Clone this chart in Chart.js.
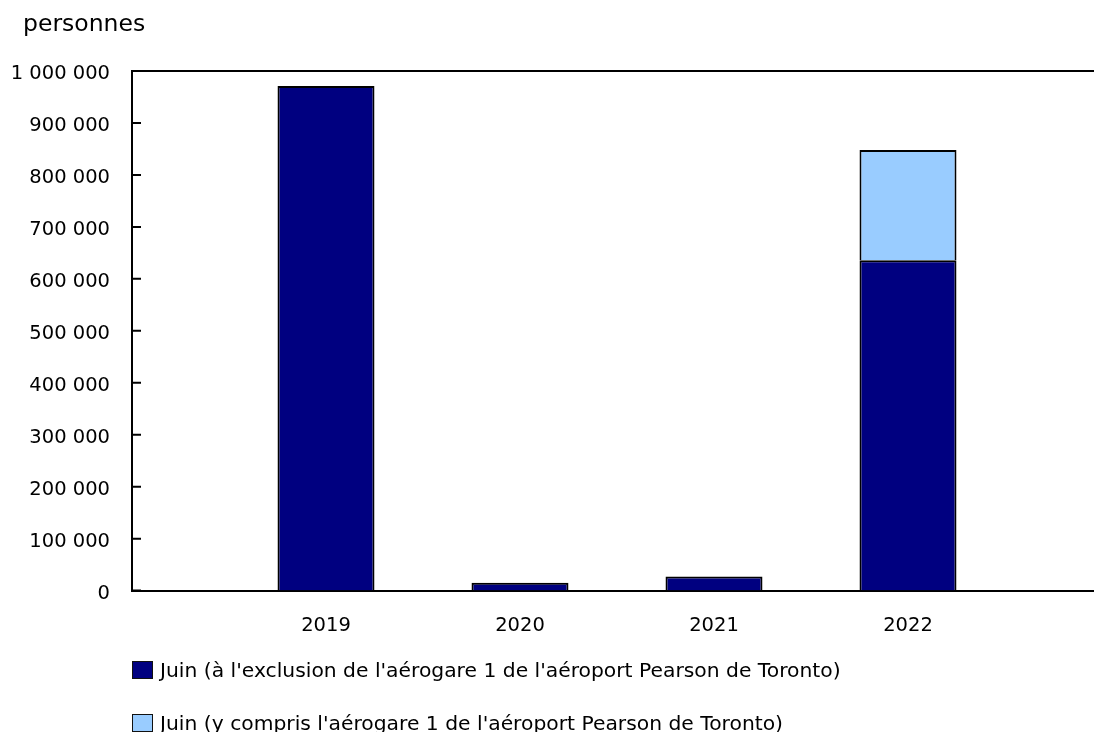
<!DOCTYPE html>
<html>
<head>
<meta charset="utf-8">
<script src="https://cdn.jsdelivr.net/npm/chart.js@4.4.1/dist/chart.umd.min.js"></script>
<style>
  html, body { margin: 0; padding: 0; background: #fff; }
  #wrap { width: 1094px; height: 732px; position: relative; overflow: hidden; font-family: Verdana, "DejaVu Sans", sans-serif; color: #000; }
  /* plot runs a little past the right edge of the picture */
  #plot { position: absolute; left: 0; top: 0; width: 1102px; height: 732px; }
  #unit { position: absolute; left: 23px; top: 9px; font-size: 23.5px; line-height: 28px; }
  #legend { position: absolute; left: 132px; top: 0; font-size: 20.3px; }
  .item { position: absolute; left: 0; display: flex; align-items: center; white-space: nowrap; height: 24px; }
  .box { width: 21px; height: 18px; box-sizing: border-box; border: 1.5px solid #111; margin-right: 7px; }
</style>
</head>
<body>
<div id="wrap">
  <div id="plot"><canvas id="chart"></canvas></div>
  <div id="unit">personnes</div>
  <div id="legend"></div>
</div>
<script>
// categories; empty slots at each end give the gap before 2019 and after 2022
const years = ['', '2019', '2020', '2021', '2022', ''];
const excludingT1 = [null, 971000, 15000, 27000, 636000, null];
const includingT1Extra = [null, null, null, null, 212000, null];
const seriesLabels = [
  "Juin (à l'exclusion de l'aérogare 1 de l'aéroport Pearson de Toronto)",
  "Juin (y compris l'aérogare 1 de l'aéroport Pearson de Toronto)"
];
const seriesColors = ['#000080', '#99CCFF'];
const yTicks = [0, 100000, 200000, 300000, 400000, 500000, 600000, 700000, 800000, 900000, 1000000];

Chart.defaults.font.family = 'Verdana, "DejaVu Sans", sans-serif';
Chart.defaults.font.size = 19.5;
Chart.defaults.color = '#000';

function fmt(v) {
  return String(v).replace(/\B(?=(\d{3})+(?!\d))/g, ' ');
}

// short tick marks pointing into the plot + top frame line
const frame = {
  id: 'frame',
  afterDatasetsDraw(chart) {
    const { ctx, chartArea: a, scales } = chart;
    ctx.save();
    ctx.strokeStyle = '#000';
    ctx.lineWidth = 2;
    ctx.beginPath();
    ctx.moveTo(a.left, a.top);
    ctx.lineTo(a.right, a.top);
    yTicks.forEach(t => {
      const y = scales.y.getPixelForValue(t);
      ctx.moveTo(a.left, y);
      ctx.lineTo(a.left + 9, y);
    });
    ctx.stroke();
    ctx.restore();
  }
};

const chart = new Chart(document.getElementById('chart'), {
  type: 'bar',
  data: {
    labels: years,
    datasets: [{
      label: seriesLabels[0],
      data: excludingT1,
      backgroundColor: seriesColors[0],
      borderColor: '#000',
      borderWidth: 2
    }, {
      label: seriesLabels[1],
      data: includingT1Extra,
      backgroundColor: seriesColors[1],
      borderColor: '#000',
      borderWidth: 2
    }]
  },
  options: {
    responsive: true,
    maintainAspectRatio: false,
    animation: false,
    devicePixelRatio: 1,
    datasets: { bar: { barPercentage: 0.5, categoryPercentage: 1 } },
    layout: { padding: { left: 10, right: 0, top: 71, bottom: 70 } },
    scales: {
      x: {
        stacked: true,
        offset: false,
        grid: { display: false, drawTicks: false },
        border: { display: true, color: '#000', width: 2 },
        ticks: { padding: 24, maxRotation: 0, autoSkip: false },
        afterFit: s => { s.paddingRight = 0; s.paddingLeft = 0; }
      },
      y: {
        stacked: true,
        min: 0,
        max: 1000000,
        afterBuildTicks: s => { s.ticks = yTicks.map(v => ({ value: v })); },
        afterFit: s => { s.width = 122; },
        grid: { display: false, drawTicks: false },
        border: { display: true, color: '#000', width: 2 },
        ticks: { padding: 22, labelOffset: 3, callback: v => fmt(v) }
      }
    },
    plugins: {
      legend: { display: false },
      tooltip: { enabled: false }
    }
  },
  plugins: [frame]
});

// legend below the plot, built from the chart's datasets
const legendEl = document.getElementById('legend');
const rowTops = [658, 711];
chart.data.datasets.forEach((ds, i) => {
  const item = document.createElement('div');
  item.className = 'item';
  item.style.top = rowTops[i] + 'px';
  const box = document.createElement('span');
  box.className = 'box';
  box.style.background = ds.backgroundColor;
  const txt = document.createElement('span');
  txt.textContent = ds.label;
  item.appendChild(box);
  item.appendChild(txt);
  legendEl.appendChild(item);
});
</script>
</body>
</html>
